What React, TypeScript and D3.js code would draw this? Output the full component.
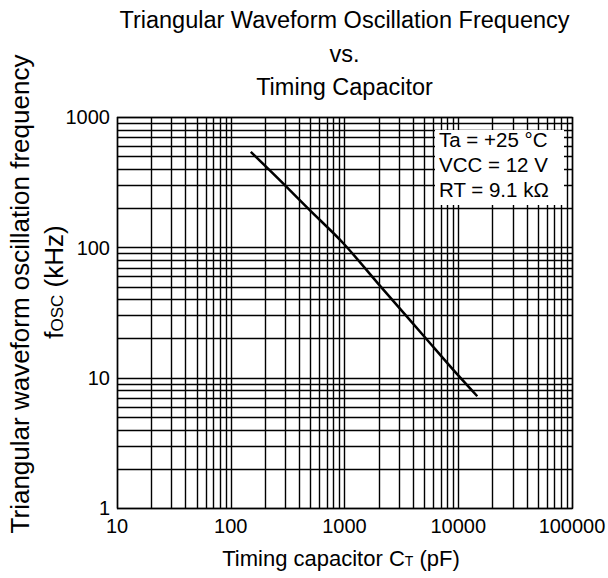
import React, { useEffect, useRef } from "react";
import * as d3 from "d3";

// curve
const capacitance = [150, 290, 480, 980, 2000, 5000, 10000, 14700]; // pF
const frequency = [540, 308, 198, 107, 52, 20.8, 10.4, 7.2]; // kHz

const xTickValues = [10, 100, 1000, 10000, 100000];
const yTickValues = [1, 10, 100, 1000];
const titleLines = ["Triangular Waveform Oscillation Frequency", "vs.", "Timing Capacitor"];
const conditions = ["Ta = +25 °C", "VCC = 12 V", "RT = 9.1 kΩ"];

const WIDTH = 608;
const HEIGHT = 578;
const FONT = "'Liberation Sans', Arial, Helvetica, sans-serif";

const App = () => {
  const ref = useRef<SVGSVGElement | null>(null);

  useEffect(() => {
    const svg = d3.select(ref.current);
    svg.selectAll("*").remove();

    const left = 117, right = 572, top = 117, bottom = 508;

    const x = d3.scaleLog().domain([10, 100000]).range([left, right]);
    const y = d3.scaleLog().domain([1, 1000]).range([bottom, top]);

    const px = (v: number) => Math.round(v) + 0.5;

    // Title
    svg.append("g")
      .selectAll("text")
      .data(titleLines)
      .join("text")
      .attr("x", (left + right) / 2)
      .attr("y", (d, i) => 28 + i * 33.5)
      .attr("text-anchor", "middle")
      .style("font-size", "23.5px")
      .text(d => d);

    // Grid
    const grid = svg.append("g")
      .attr("stroke", "#000")
      .attr("stroke-width", 1.4);

    grid.selectAll("line.v")
      .data(x.ticks())
      .join("line")
      .attr("class", "v")
      .attr("x1", d => px(x(d)))
      .attr("x2", d => px(x(d)))
      .attr("y1", top)
      .attr("y2", bottom);

    grid.selectAll("line.h")
      .data(y.ticks())
      .join("line")
      .attr("class", "h")
      .attr("x1", left)
      .attr("x2", right)
      .attr("y1", d => px(y(d)))
      .attr("y2", d => px(y(d)));

    grid.append("rect")
      .attr("x", left + 0.5)
      .attr("y", top + 0.5)
      .attr("width", right - left)
      .attr("height", bottom - top)
      .attr("fill", "none");

    // Conditions box
    svg.append("rect")
      .attr("x", 435)
      .attr("y", 130)
      .attr("width", 129)
      .attr("height", 75)
      .attr("fill", "#fff");

    svg.append("g")
      .selectAll("text")
      .data(conditions)
      .join("text")
      .attr("x", 439)
      .attr("y", (d, i) => 147 + i * 25.2)
      .style("font-size", "20.5px")
      .text(d => d);

    // Curve
    const line = d3.line<number>()
      .x(d => x(d))
      .y((d, i) => y(frequency[i]))
      .curve(d3.curveMonotoneX);

    svg.append("path")
      .datum(capacitance)
      .attr("d", line)
      .attr("fill", "none")
      .attr("stroke", "#000")
      .attr("stroke-width", 2.5);

    // Tick labels
    svg.append("g")
      .selectAll("text")
      .data(xTickValues)
      .join("text")
      .attr("x", d => x(d))
      .attr("y", 533)
      .attr("text-anchor", "middle")
      .style("font-size", "20px")
      .text(d => String(d));

    svg.append("g")
      .selectAll("text")
      .data(yTickValues)
      .join("text")
      .attr("x", 110)
      .attr("y", d => y(d))
      .attr("dy", "0.36em")
      .attr("text-anchor", "end")
      .style("font-size", "20px")
      .text(d => String(d));

    // X axis label
    const xl = svg.append("text")
      .attr("x", 341)
      .attr("y", 566)
      .attr("text-anchor", "middle")
      .style("font-size", "22px");
    xl.append("tspan").text("Timing capacitor C");
    xl.append("tspan").style("font-size", "14px").text("T");
    xl.append("tspan").text(" (pF)");

    // Y axis label
    svg.append("text")
      .attr("transform", "translate(28.5,294) rotate(-90)")
      .attr("text-anchor", "middle")
      .style("font-size", "26px")
      .text("Triangular waveform oscillation frequency");

    const yl = svg.append("text")
      .attr("transform", "translate(63,282) rotate(-90)")
      .attr("text-anchor", "middle")
      .style("font-size", "26px");
    yl.append("tspan").text("f");
    yl.append("tspan").style("font-size", "17px").text("OSC");
    yl.append("tspan").text(" (kHz)");
  }, []);

  return (
    <svg
      ref={ref}
      width={WIDTH}
      height={HEIGHT}
      style={{ position: "absolute", left: 0, top: 0, background: "#fff", fontFamily: FONT }}
    />
  );
};

export default App;
